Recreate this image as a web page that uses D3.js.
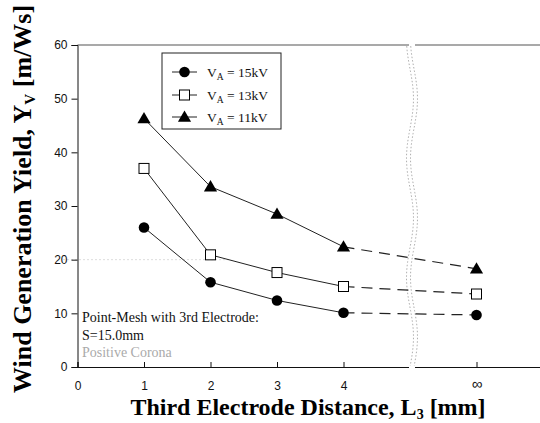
<!DOCTYPE html>
<html><head><meta charset="utf-8">
<script src="https://cdn.jsdelivr.net/npm/d3@7"></script>
<style>body{margin:0;background:#fff}svg{display:block}</style>
</head><body>
<script>
const xPositions = [1, 2, 3, 4, 6];
const xTickValues = [0, 1, 2, 3, 4, 6];
const xTickLabels = ["0", "1", "2", "3", "4", "\u221E"];
const yTickValues = [0, 10, 20, 30, 40, 50, 60];
const seriesNames = ["15kV", "13kV", "11kV"];
const series15 = [26.0, 15.8, 12.4, 10.1, 9.7];
const series13 = [37.0, 20.9, 17.6, 15.0, 13.6];
const series11 = [46.3, 33.6, 28.5, 22.4, 18.3];
const annotation = ["Point-Mesh with 3rd Electrode:", "S=15.0mm", "Positive Corona"];

const W = 540, H = 423;
const svg = d3.select("body").append("svg").attr("width", W).attr("height", H);
const x = d3.scaleLinear().domain([0, 7]).range([77.5, 543]);
const y = d3.scaleLinear().domain([0, 60]).range([367, 45]);
const serif = "'Liberation Serif','Times New Roman',serif";
const sans = "'Liberation Sans',Arial,sans-serif";

// faint dotted gridline at 20
svg.append("line").attr("x1", x(0) - 14).attr("x2", x(2.3)).attr("y1", y(20)).attr("y2", y(20))
  .attr("stroke", "#bbb").attr("stroke-dasharray", "1,3");

// top border
svg.append("line").attr("x1", x(0)).attr("x2", W).attr("y1", y(60)).attr("y2", y(60))
  .attr("stroke", "#555").attr("stroke-width", 1.2);

// Y axis
const yAxis = d3.axisLeft(y).tickValues(yTickValues).tickSize(6).tickFormat(d3.format("d"));
const gy = svg.append("g").attr("transform", `translate(${x(0)},0)`).call(yAxis);
gy.select(".domain").attr("stroke", "#111");
gy.selectAll(".tick line").attr("stroke", "#111");
gy.selectAll("text").attr("font-family", sans).attr("font-size", 12).attr("fill", "#111").attr("x", -10);

// X axis
const xAxis = d3.axisBottom(x).tickValues(xTickValues).tickSize(-5)
  .tickFormat((d, i) => xTickLabels[i]);
const gx = svg.append("g").attr("transform", `translate(0,${y(0)})`).call(xAxis);
gx.select(".domain").attr("stroke", "#111");
gx.selectAll(".tick line").attr("stroke", "#111");
gx.selectAll("text").attr("font-family", sans).attr("font-size", 12).attr("fill", "#111").attr("y", 14);
gx.selectAll(".tick").filter(d => d === 6).select("text").attr("font-size", 15).attr("y", 11);

// Axis break (wavy dotted)
const bx = x(5.03);
const waveData = d3.range(0, 60.5, 0.5);
const wave = d3.line().x(d => bx + 3.5 * Math.sin(d / 60 * Math.PI * 5.4)).y(d => y(d)).curve(d3.curveBasis);
[-2, 2].forEach(off => {
  svg.append("path").datum(waveData).attr("d", wave).attr("transform", `translate(${off},0)`)
    .attr("fill", "none").attr("stroke", "#999").attr("stroke-width", 0.8).attr("stroke-dasharray", "1.5,2");
});
svg.append("rect").attr("x", bx - 3).attr("y", y(0) - 1).attr("width", 6).attr("height", 2).attr("fill", "#fff");
svg.append("rect").attr("x", bx - 3).attr("y", y(60) - 1).attr("width", 6).attr("height", 2).attr("fill", "#fff");

// Series
const allSeries = [
  { name: seriesNames[0], values: series15, shape: "circle" },
  { name: seriesNames[1], values: series13, shape: "square" },
  { name: seriesNames[2], values: series11, shape: "triangle" }
];
const line = d3.line().x(d => x(d[0])).y(d => y(d[1]));
function drawMarker(g, shape, cx, cy) {
  if (shape === "circle") g.append("circle").attr("cx", cx).attr("cy", cy).attr("r", 5.3).attr("fill", "#000");
  else if (shape === "square") g.append("rect").attr("x", cx - 5).attr("y", cy - 5).attr("width", 10).attr("height", 10)
    .attr("fill", "#fff").attr("stroke", "#000").attr("stroke-width", 1);
  else g.append("path").attr("d", d3.symbol().type(d3.symbolTriangle).size(75)()).attr("transform", `translate(${cx},${cy + 1})`).attr("fill", "#000");
}
allSeries.forEach(s => {
  const pts = xPositions.map((xv, i) => [xv, s.values[i]]);
  svg.append("path").datum(pts.slice(0, 4)).attr("d", line).attr("fill", "none").attr("stroke", "#222").attr("stroke-width", 1);
  svg.append("path").datum(pts.slice(3)).attr("d", line).attr("fill", "none").attr("stroke", "#222").attr("stroke-width", 1.2)
    .attr("stroke-dasharray", "11,7");
  pts.forEach(p => drawMarker(svg, s.shape, x(p[0]), y(p[1])));
});

// Legend
const lg = svg.append("g");
lg.append("rect").attr("x", 162).attr("y", 53).attr("width", 119).attr("height", 76)
  .attr("fill", "#fff").attr("stroke", "#222").attr("stroke-width", 1);
const legY = [72, 95, 117];
allSeries.forEach((s, i) => {
  lg.append("line").attr("x1", 172).attr("x2", 197).attr("y1", legY[i]).attr("y2", legY[i]).attr("stroke", "#222");
  drawMarker(lg, s.shape, 184.5, legY[i]);
  const t = lg.append("text").attr("x", 207).attr("y", legY[i] + 4.5).attr("font-family", serif)
    .attr("font-size", 13.5).attr("fill", "#111");
  t.append("tspan").text("V");
  t.append("tspan").attr("font-size", 9.5).attr("dy", 3).text("A");
  t.append("tspan").attr("dy", -3).text(" = " + s.name);
});

// Annotation
annotation.forEach((txt, i) => {
  svg.append("text").attr("x", 82).attr("y", 322 + i * 17.5).attr("font-family", serif)
    .attr("font-size", 14).attr("fill", i === 2 ? "#aaa" : "#111").text(txt);
});

// Axis titles
const xt = svg.append("text").attr("x", 308).attr("y", 415).attr("text-anchor", "middle")
  .attr("font-family", serif).attr("font-weight", "bold").attr("font-size", 24).attr("fill", "#000");
xt.append("tspan").text("Third Electrode Distance, L");
xt.append("tspan").attr("font-size", 14).attr("dy", 4).text("3");
xt.append("tspan").attr("dy", -4).text(" [mm]");

const yt = svg.append("text").attr("transform", "translate(31,199) rotate(-90)").attr("text-anchor", "middle")
  .attr("font-family", serif).attr("font-weight", "bold").attr("font-size", 26).attr("fill", "#000");
yt.append("tspan").text("Wind Generation Yield, Y");
yt.append("tspan").attr("font-size", 15).attr("dy", 4).text("V");
yt.append("tspan").attr("dy", -4).text(" [m/Ws]");
</script>
</body></html>
